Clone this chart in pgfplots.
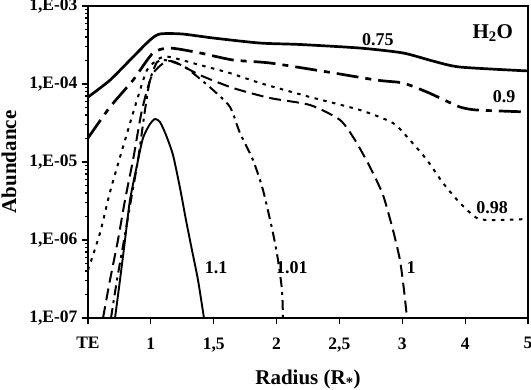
\documentclass[border=0pt]{standalone}
\usepackage{pgfplots}
\pgfplotsset{compat=1.18}
\usepackage{fontspec}
\setmainfont{Liberation Serif}

\begin{document}
\begin{tikzpicture}
\begin{axis}[scale only axis, width=440pt, height=312pt,
  xmin=0, xmax=7, ymin=1e-7, ymax=1e-3, ymode=log,
  xtick={0,...,7}, xticklabels={TE,1,{1,5},2,{2,5},3,4,5},
  ytick={1e-7,1e-6,1e-5,1e-4,1e-3},
  yticklabels={{1,E-07},{1,E-06},{1,E-05},{1,E-04},{1,E-03}},
  minor ytick={}, tick pos=left, tick align=outside, major tick length=6pt,
  axis line style={line width=1.2pt}, tick style={line width=1.2pt, black},
  ticklabel style={font=\fontsize{17.5}{17.5}\selectfont\bfseries},
  xticklabel style={yshift=-10pt},
  yticklabel style={xshift=-1pt},
  xlabel={Radius (R\textsubscript{*})}, ylabel={Abundance},
  label style={font=\fontsize{21}{21}\selectfont\bfseries},
  xlabel style={yshift=-11pt}, ylabel style={yshift=6pt},
  every axis plot/.append style={black, line join=round, smooth, tension=0.4}]

  % 0.75
  \addplot[line width=2.7pt] coordinates {(0,6.8e-5) (0.35,1.12e-4) (0.716,2.22e-4) (0.986,3.66e-4) (1.145,4.38e-4) (1.495,4.38e-4) (1.989,3.89e-4) (2.736,3.35e-4) (3.373,3.21e-4) (4.327,2.89e-4) (5.011,2.50e-4) (5.488,1.97e-4) (5.918,1.65e-4) (7,1.47e-4)};
  % 0.9
  \addplot[line width=2.7pt, dash pattern=on 22pt off 7pt on 6pt off 7pt] coordinates {(0,2.03e-5) (0.35,5.07e-5) (0.716,1.12e-4) (1.034,2.50e-4) (1.304,2.89e-4) (1.782,2.50e-4) (2.307,2.03e-4) (2.895,1.86e-4) (3.802,1.43e-4) (4.598,1.12e-4) (5.011,1.03e-4) (5.393,7.89e-5) (5.6,6.61e-5) (5.918,5.07e-5) (6.188,4.64e-5) (7,4.38e-5)};
  % 0.98
  \addplot[line width=2pt, dash pattern=on 3.5pt off 5.5pt] coordinates {(0,4.12e-7) (0.191,1.23e-6) (0.35,4.12e-6) (0.557,1.56e-5) (0.78,6.24e-5) (0.939,1.51e-4) (1.145,2.15e-4) (1.304,2.22e-4) (1.782,1.75e-4) (2.259,1.38e-4) (2.736,1.03e-4) (3.532,6.81e-5) (4.327,4.64e-5) (4.852,3.16e-5) (5.122,1.91e-5) (5.393,1.06e-5) (5.648,5.38e-6) (5.918,2.98e-6) (6.188,1.91e-6) (6.443,1.80e-6) (7,1.86e-6)};
  % 1
  \addplot[line width=2pt, dash pattern=on 12pt off 6pt] coordinates {(0.239,1e-7) (0.35,3.07e-7) (0.477,1e-6) (0.589,3.26e-6) (0.716,1.06e-5) (0.859,4.64e-5) (1.018,1.30e-4) (1.225,1.91e-4) (1.384,1.91e-4) (1.782,1.30e-4) (2.307,8.89e-5) (2.895,6.61e-5) (3.532,5.38e-5) (4.009,3.46e-5) (4.248,1.91e-5) (4.486,8.63e-6) (4.693,3.78e-6) (4.852,1.34e-6) (4.963,5.54e-7) (5.027,2.29e-7) (5.075,1e-7)};
  % 1.01
  \addplot[line width=2pt, dash pattern=on 10pt off 5pt on 3pt off 5pt] coordinates {(0.366,1e-7) (0.461,3.07e-7) (0.573,1e-6) (0.684,3.26e-6) (0.795,1.06e-5) (0.907,4.64e-5) (0.986,1.12e-4) (1.098,1.91e-4) (1.225,2.03e-4) (1.543,1.65e-4) (1.989,8.38e-5) (2.259,5.07e-5) (2.418,2.35e-5) (2.625,1.06e-5) (2.784,4.38e-6) (2.943,1.23e-6) (3.023,5.54e-7) (3.086,2.29e-7) (3.102,1e-7)};
  % 1.1
  \addplot[line width=1.9pt] coordinates {(0.43,1e-7) (0.509,3.07e-7) (0.589,1e-6) (0.668,3.26e-6) (0.78,9.15e-6) (0.875,2.03e-5) (0.986,3.07e-5) (1.066,3.56e-5) (1.145,3.26e-5) (1.241,2.22e-5) (1.352,1.23e-5) (1.464,4.64e-6) (1.559,1.80e-6) (1.654,7.44e-7) (1.75,3.07e-7) (1.845,1e-7)};

  \begin{scope}[every node/.style={font=\fontsize{18}{18}\selectfont\bfseries}]
    \node at (axis cs:4.61,3.66e-4) {0.75};
    \node at (axis cs:6.62,6.8e-5) {0.9};
    \node at (axis cs:6.43,2.57e-6) {0.98};
    \node at (axis cs:2.04,4.38e-7) {1.1};
    \node at (axis cs:3.245,4.38e-7) {1.01};
    \node at (axis cs:5.14,4.38e-7) {1};
    \node[font=\fontsize{21}{21}\selectfont\bfseries] at (axis cs:6.44,4.5e-4) {H\textsubscript{2}O};
  \end{scope}
  \coordinate (sw) at (rel axis cs:0,0);
  \coordinate (ne) at (rel axis cs:1,1);
\end{axis}
\pgfresetboundingbox
\path[use as bounding box] ([xshift=-88pt,yshift=-72pt]sw) rectangle ([xshift=3pt,yshift=6pt]ne);
\end{tikzpicture}
\end{document}
